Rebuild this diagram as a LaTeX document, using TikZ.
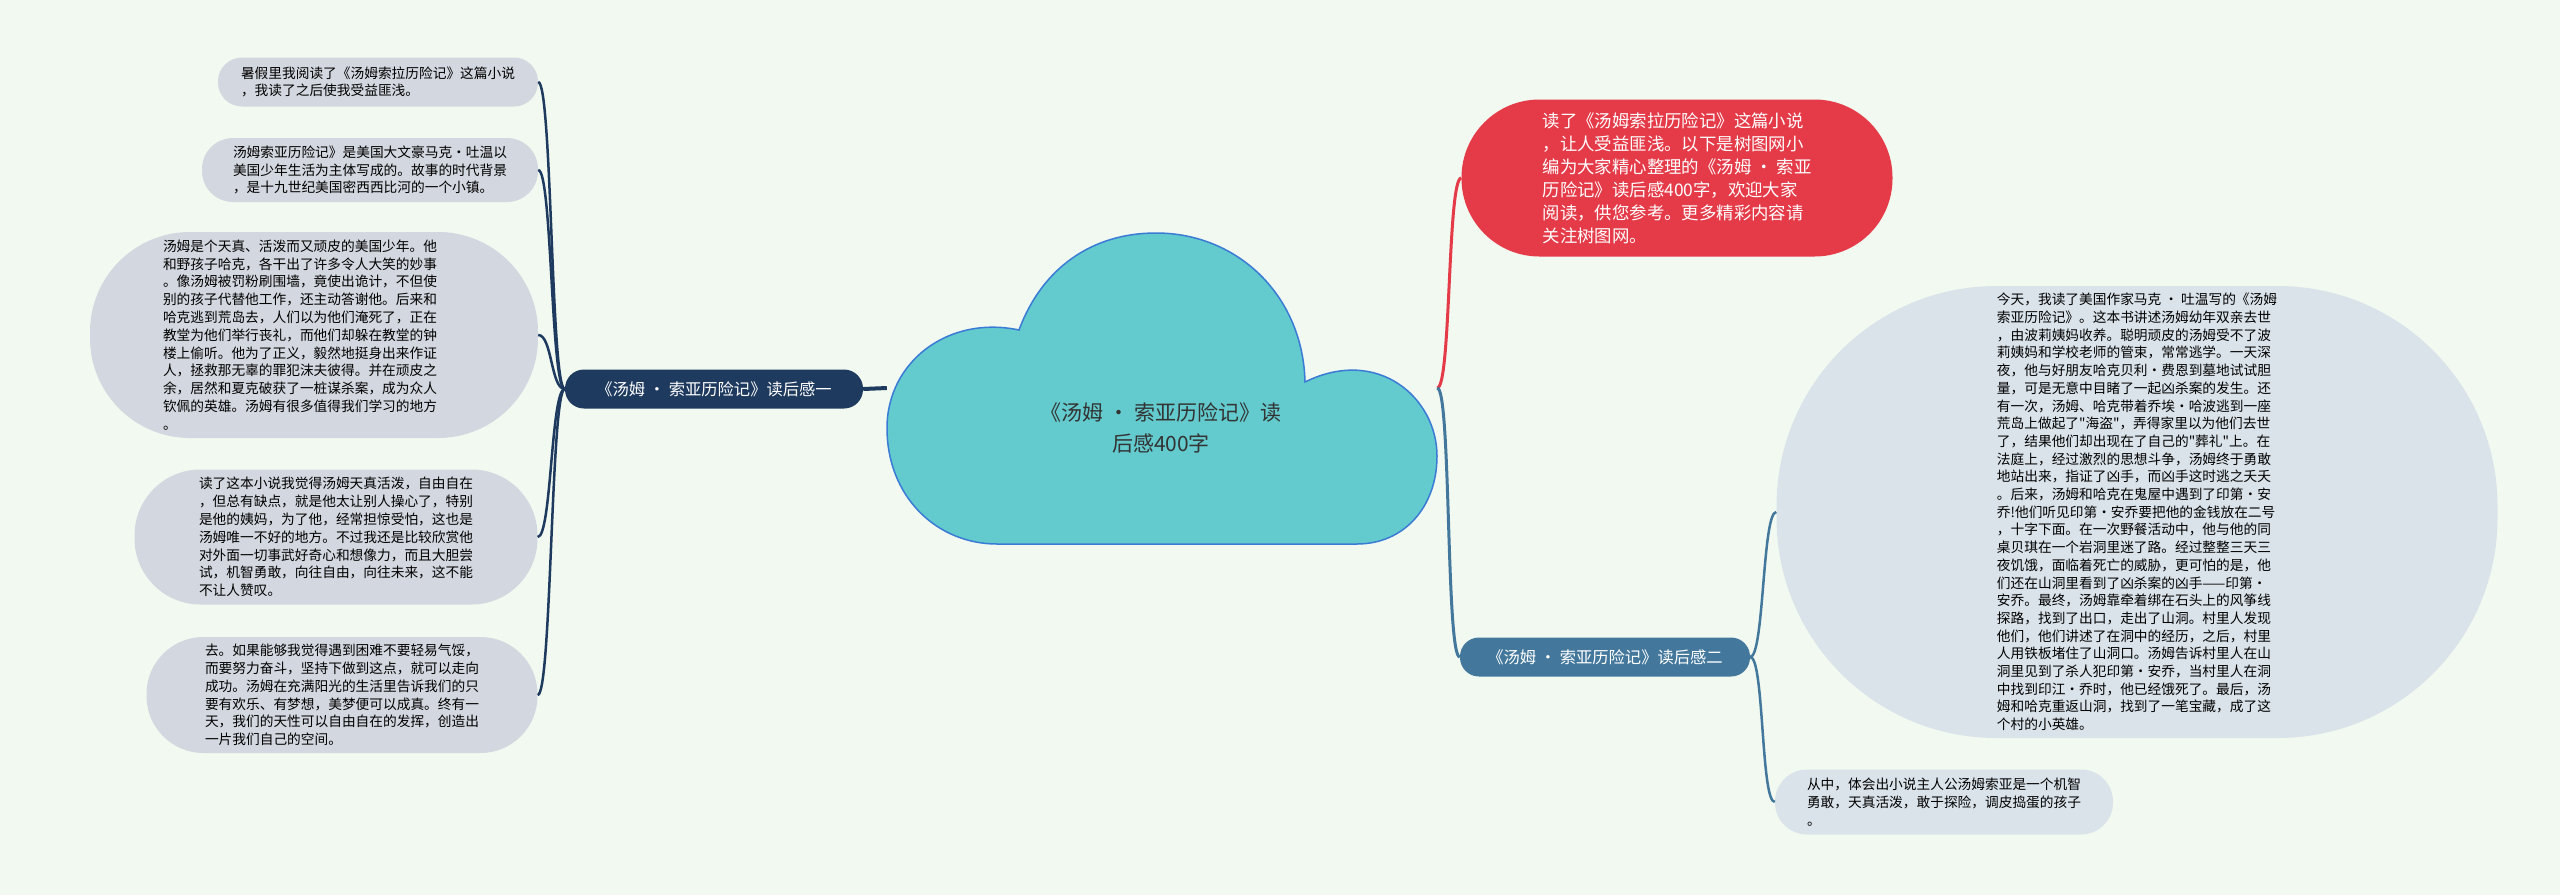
\documentclass[tikz,border=0pt]{standalone}
\usepackage{fontspec}
\newfontfamily\cjk{Noto Sans CJK SC}
\usepackage{tikz}
\usepackage{xcolor}
\definecolor{bgmint}{HTML}{F1F9F0}
\definecolor{leafgrey}{HTML}{D3D7DF}
\definecolor{leafblue}{HTML}{DAE3EA}
\definecolor{hubnavy}{HTML}{1E3A5F}
\definecolor{hubsteel}{HTML}{43789C}
\definecolor{introred}{HTML}{E53A48}
\definecolor{cloudteal}{HTML}{63CBCE}
\definecolor{cloudblue}{HTML}{3A7BD5}
\definecolor{cloudtext}{HTML}{333333}

\begin{document}
\begin{tikzpicture}
  [
    x=1pt, y=-1pt,
    leaf/.style={rectangle, rounded corners=24pt, fill=leafgrey, inner sep=0pt, align=left, text=black,
      font=\cjk\fontsize{13.7}{17.8}\selectfont},
    rleaf/.style={leaf, fill=leafblue, font=\cjk\fontsize{13.7}{17.7}\selectfont},
    hub/.style={rectangle, rounded corners=19pt, inner sep=0pt, minimum height=39pt, text=white,
      font=\cjk\fontsize{16.3}{20}\selectfont},
    branch/.style={line width=2.5pt, draw=hubnavy}
  ]
  \fill[bgmint] (0,0) rectangle (2560,895);

  % the cloud
  \draw[fill=cloudteal, draw=cloudblue, line width=1.5pt] (997,544) .. controls (937,544) and (887,497) .. (887,428)
    .. controls (887,362) and (948,315) .. (1019,330)
    .. controls (1042,268) and (1092,233) .. (1156,233)
    .. controls (1238,233) and (1303,296) .. (1305,382)
    .. controls (1378,346) and (1437,398) .. (1437,456)
    .. controls (1437,507) and (1404,544) .. (1357,544) -- cycle;
  \node[minimum width=550pt, minimum height=311pt, inner sep=0pt] (root) at (1162,388) {};
  \node[font=\cjk\fontsize{21}{31}\selectfont, text=cloudtext, align=center] (roottext) at (1161,428)
    {《汤姆 · 索亚历险记》读\\后感400字};

  % left branch
  \node[hub, fill=hubnavy, minimum width=298pt] (hubL) at (714,389) {《汤姆 · 索亚历险记》读后感一};
  \node[leaf, minimum width=320pt, minimum height=49pt] (l1) at (378,82)
    {暑假里我阅读了《汤姆索拉历险记》这篇小说\\，我读了之后使我受益匪浅。};
  \node[leaf, minimum width=336pt, minimum height=64pt, rounded corners=31pt] (l2) at (370,170)
    {汤姆索亚历险记》是美国大文豪马克·吐温以\\美国少年生活为主体写成的。故事的时代背景\\，是十九世纪美国密西西比河的一个小镇。};
  \node[leaf, minimum width=448pt, minimum height=206pt, rounded corners=100pt, text width=302pt] (l3) at (314,335)
    {汤姆是个天真、活泼而又顽皮的美国少年。他\\和野孩子哈克，各干出了许多令人大笑的妙事\\。像汤姆被罚粉刷围墙，竟使出诡计，不但使\\别的孩子代替他工作，还主动答谢他。后来和\\哈克逃到荒岛去，人们以为他们淹死了，正在\\教堂为他们举行丧礼，而他们却躲在教堂的钟\\楼上偷听。他为了正义，毅然地挺身出来作证\\人，拯救那无辜的罪犯沫夫彼得。并在顽皮之\\余，居然和夏克破获了一桩谋杀案，成为众人\\钦佩的英雄。汤姆有很多值得我们学习的地方\\。};
  \node[leaf, minimum width=403pt, minimum height=135pt, rounded corners=66pt] (l4) at (336,537)
    {读了这本小说我觉得汤姆天真活泼，自由自在\\，但总有缺点，就是他太让别人操心了，特别\\是他的姨妈，为了他，经常担惊受怕，这也是\\汤姆唯一不好的地方。不过我还是比较欣赏他\\对外面一切事武好奇心和想像力，而且大胆尝\\试，机智勇敢，向往自由，向往未来，这不能\\不让人赞叹。};
  \node[leaf, minimum width=391pt, minimum height=116pt, rounded corners=57pt] (l5) at (342,695)
    {去。如果能够我觉得遇到困难不要轻易气馁，\\而要努力奋斗，坚持下做到这点，就可以走向\\成功。汤姆在充满阳光的生活里告诉我们的只\\要有欢乐、有梦想，美梦便可以成真。终有一\\天，我们的天性可以自由自在的发挥，创造出\\一片我们自己的空间。};

  % right branch
  \node[leaf, fill=introred, text=white, font=\cjk\fontsize{17.4}{23}\selectfont,
    minimum width=431pt, minimum height=157pt, rounded corners=78pt] (intro) at (1677,178)
    {读了《汤姆索拉历险记》这篇小说\\，让人受益匪浅。以下是树图网小\\编为大家精心整理的《汤姆 · 索亚\\历险记》读后感400字，欢迎大家\\阅读，供您参考。更多精彩内容请\\关注树图网。};
  \node[hub, fill=hubsteel, minimum width=290pt] (hubR) at (1605,657) {《汤姆 · 索亚历险记》读后感二};
  \node[rleaf, minimum width=721pt, minimum height=452pt, rounded corners=220pt] (r1) at (2137,512)
    {今天，我读了美国作家马克 · 吐温写的《汤姆\\索亚历险记》。这本书讲述汤姆幼年双亲去世\\，由波莉姨妈收养。聪明顽皮的汤姆受不了波\\莉姨妈和学校老师的管束，常常逃学。一天深\\夜，他与好朋友哈克贝利·费恩到墓地试试胆\\量，可是无意中目睹了一起凶杀案的发生。还\\有一次，汤姆、哈克带着乔埃·哈波逃到一座\\荒岛上做起了"海盗"，弄得家里以为他们去世\\了，结果他们却出现在了自己的"葬礼"上。在\\法庭上，经过激烈的思想斗争，汤姆终于勇敢\\地站出来，指证了凶手，而凶手这时逃之夭夭\\。后来，汤姆和哈克在鬼屋中遇到了印第·安\\乔!他们听见印第·安乔要把他的金钱放在二号\\，十字下面。在一次野餐活动中，他与他的同\\桌贝琪在一个岩洞里迷了路。经过整整三天三\\夜饥饿，面临着死亡的威胁，更可怕的是，他\\们还在山洞里看到了凶杀案的凶手——印第·\\安乔。最终，汤姆靠牵着绑在石头上的风筝线\\探路，找到了出口，走出了山洞。村里人发现\\他们，他们讲述了在洞中的经历，之后，村里\\人用铁板堵住了山洞口。汤姆告诉村里人在山\\洞里见到了杀人犯印第·安乔，当村里人在洞\\中找到印江·乔时，他已经饿死了。最后，汤\\姆和哈克重返山洞，找到了一笔宝藏，成了这\\个村的小英雄。};
  \node[rleaf, minimum width=338pt, minimum height=65pt, rounded corners=32pt] (r2) at (1944,802)
    {从中，体会出小说主人公汤姆索亚是一个机智\\勇敢，天真活泼，敢于探险，调皮捣蛋的孩子\\。};

  % connectors
  \foreach \n in {l1,l2,l3,l4,l5}
    \draw[branch] (hubL.west) .. controls +(-14,0) and +(14,0) .. (\n.east);
  \draw[line width=4pt, hubnavy] (hubL.east) -- (root.west);
  \draw[line width=3pt, introred] (root.east) .. controls +(14,0) and +(-14,0) .. (intro.west);
  \draw[line width=3pt, hubsteel] (root.east) .. controls +(14,0) and +(-14,0) .. (hubR.west);
  \foreach \n in {r1,r2}
    \draw[line width=2.5pt, hubsteel] (hubR.east) .. controls +(14,0) and +(-14,0) .. (\n.west);
\end{tikzpicture}
\end{document}
